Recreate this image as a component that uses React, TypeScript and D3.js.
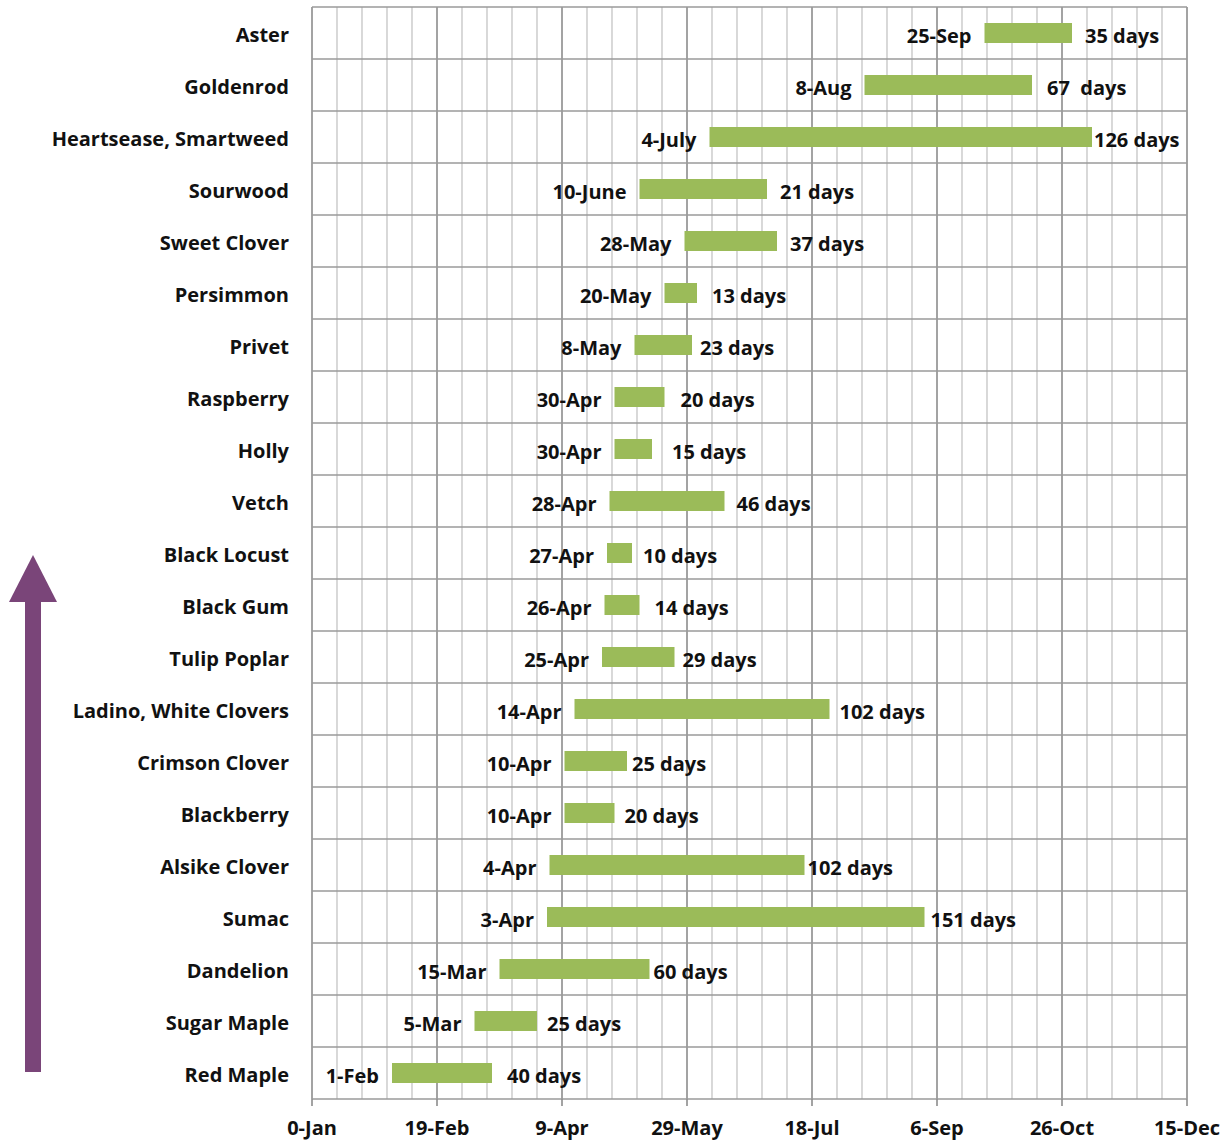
import React from "react";
import * as d3 from "d3";

const categories = [
  "Aster", "Goldenrod", "Heartsease, Smartweed", "Sourwood", "Sweet Clover",
  "Persimmon", "Privet", "Raspberry", "Holly", "Vetch", "Black Locust",
  "Black Gum", "Tulip Poplar", "Ladino, White Clovers", "Crimson Clover",
  "Blackberry", "Alsike Clover", "Sumac", "Dandelion", "Sugar Maple", "Red Maple",
];
// bar start as day-of-year (Excel serial) and bar length in days, as drawn
const startDay = [269, 221, 159, 131, 149, 141, 129, 121, 121, 119, 118, 117, 116, 105, 101, 101, 95, 94, 75, 65, 32];
const durationDays = [35, 67, 153, 51, 37, 13, 23, 20, 15, 46, 10, 14, 29, 102, 25, 20, 102, 151, 60, 25, 40];
const startLabels = [
  "25-Sep", "8-Aug", "4-July", "10-June", "28-May", "20-May", "8-May", "30-Apr",
  "30-Apr", "28-Apr", "27-Apr", "26-Apr", "25-Apr", "14-Apr", "10-Apr", "10-Apr",
  "4-Apr", "3-Apr", "15-Mar", "5-Mar", "1-Feb",
];
const durationLabels = [
  "35 days", "67  days", "126 days", "21 days", "37 days", "13 days", "23 days",
  "20 days", "15 days", "46 days", "10 days", "14 days", "29 days", "102 days",
  "25 days", "20 days", "102 days", "151 days", "60 days", "25 days", "40 days",
];
const tickValues = [0, 50, 100, 150, 200, 250, 300, 350];
const tickLabels = ["0-Jan", "19-Feb", "9-Apr", "29-May", "18-Jul", "6-Sep", "26-Oct", "15-Dec"];

// label placement nudges (px) after bar end
const endLabelGap = [13, 15, 2, 13, 13, 15, 8, 16, 20, 12, 11, 15, 8, 10, 5, 10, 3, 6, 4, 10, 15];

const W = 1224;
const H = 1141;
const FONT = "'Open Sans', 'DejaVu Sans', sans-serif";

export default function App() {
  const x = d3.scaleLinear().domain([0, 350]).range([312, 1187]);
  const y = d3.scaleBand<string>().domain(categories).range([7, 1099]).padding(0);
  const barH = 20;
  const minor = d3.range(0, 351, 10);
  const [y0, y1] = y.range();
  const rowEdges = d3.range(categories.length + 1).map((i) => y0 + i * y.bandwidth());

  return (
    <svg
      width={W}
      height={H}
      style={{ position: "absolute", left: 0, top: 0, background: "#fff" }}
      fontFamily={FONT}
    >
      <rect x={0} y={0} width={W} height={H} fill="#fff" />
      {/* vertical grid */}
      {minor.map((d) => (
        <line key={"m" + d} x1={x(d)} x2={x(d)} y1={y0} y2={y1}
          stroke={d % 50 === 0 ? "#8c8c8c" : "#c4c4c4"} strokeWidth={d % 50 === 0 ? 1.6 : 1.3} />
      ))}
      {/* horizontal row lines */}
      {rowEdges.map((v, i) => (
        <line key={"h" + i} x1={x(0)} x2={x(350)} y1={v} y2={v} stroke="#9a9a9a" strokeWidth={1.6} />
      ))}
      {/* ticks */}
      {tickValues.map((t, i) => (
        <g key={"t" + t}>
          <line x1={x(t)} x2={x(t)} y1={y1} y2={y1 + 7} stroke="#8c8c8c" strokeWidth={1.6} />
          <text x={x(t)} y={1127} textAnchor="middle" dominantBaseline="central"
            fontSize={20} fontWeight={700} fill="#111">{tickLabels[i]}</text>
        </g>
      ))}
      {/* category labels */}
      {categories.map((c) => (
        <text key={"c" + c} x={289} y={(y(c) as number) + y.bandwidth() / 2 + 1}
          textAnchor="end" dominantBaseline="central" fontSize={20} fontWeight={700} fill="#111">{c}</text>
      ))}
      {/* bars and labels */}
      {categories.map((c, i) => {
        const cy = (y(c) as number) + y.bandwidth() / 2;
        const xs = x(startDay[i]);
        const xe = x(startDay[i] + durationDays[i]);
        return (
          <g key={"b" + c}>
            <rect x={xs} y={cy - barH / 2} width={xe - xs} height={barH} fill="#9bbb59" />
            <text x={xs - 13} y={cy + 2} textAnchor="end" dominantBaseline="central"
              fontSize={20} fontWeight={700} fill="#111">{startLabels[i]}</text>
            <text x={xe + endLabelGap[i]} y={cy + 2} textAnchor="start" dominantBaseline="central"
              fontSize={20} fontWeight={700} fill="#111" style={{ whiteSpace: "pre" }}>{durationLabels[i]}</text>
          </g>
        );
      })}
      {/* purple arrow */}
      <rect x={25} y={595} width={16} height={477} fill="#7a4579" />
      <polygon points="33,555 9,602 57,602" fill="#7a4579" />
    </svg>
  );
}
